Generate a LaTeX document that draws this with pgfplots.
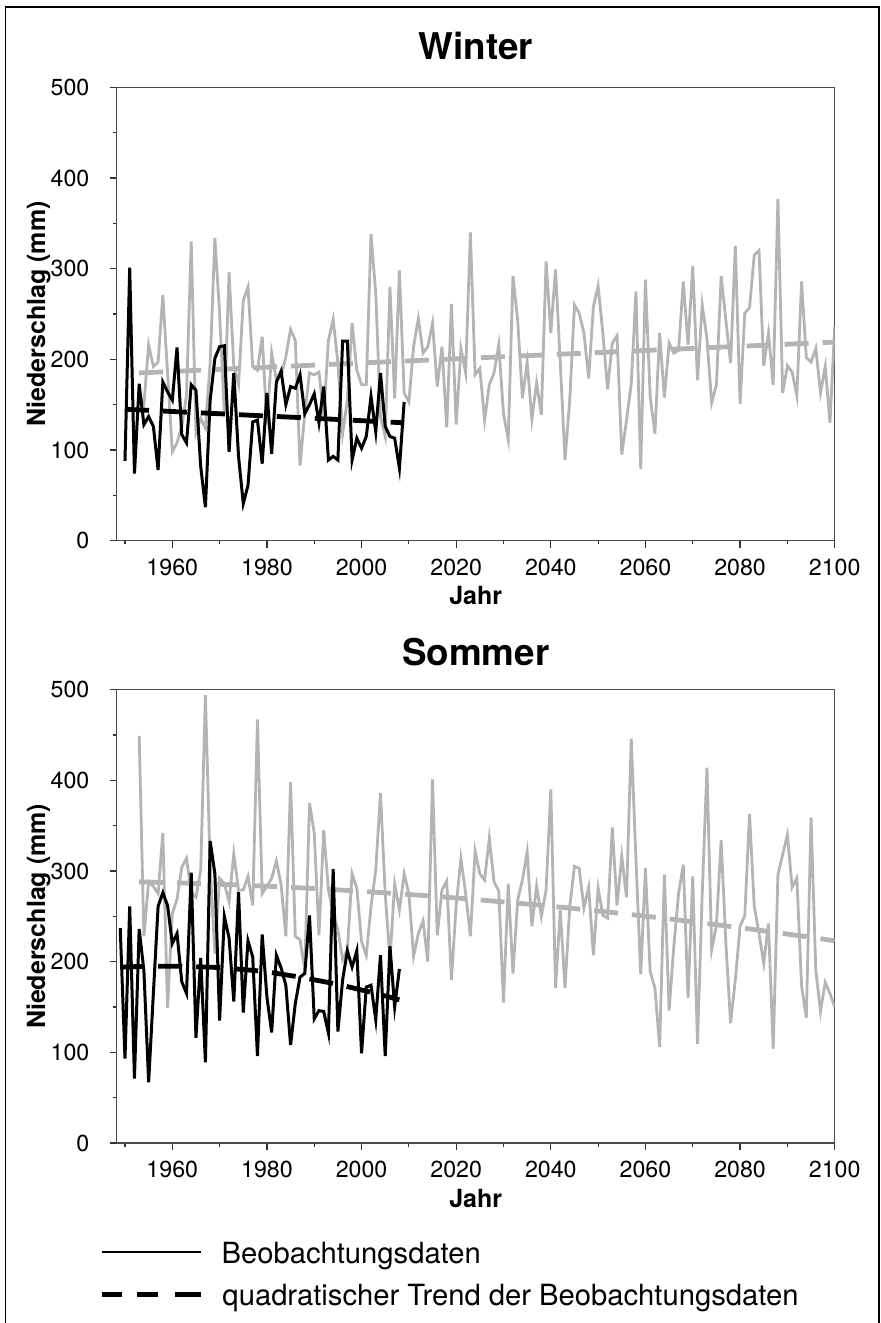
\documentclass[border=0pt]{standalone}
\usepackage{fontspec}
\setmainfont{TeX Gyre Heros}
\usepackage{pgfplots}
\usepackage{pgfplotstable}
\pgfplotsset{compat=1.18}

\definecolor{modelgray}{RGB}{180,180,180}

% Winter, Modell 1953-2100
\pgfplotstableread[row sep=\\]{
year val\\
1953 160\\ 1954 151\\ 1955 216\\ 1956 192\\ 1957 197\\ 1958 271\\ 1959 185\\ 1960 98\\
1961 108\\ 1962 126\\ 1963 160\\ 1964 330\\ 1965 119\\ 1966 135\\ 1967 124\\ 1968 196\\
1969 334\\ 1970 251\\ 1971 140\\ 1972 296\\ 1973 192\\ 1974 172\\ 1975 265\\ 1976 280\\
1977 192\\ 1978 188\\ 1979 225\\ 1980 128\\ 1981 207\\ 1982 177\\ 1983 181\\ 1984 203\\
1985 233\\ 1986 221\\ 1987 83\\ 1988 140\\ 1989 185\\ 1990 183\\ 1991 186\\ 1992 137\\
1993 221\\ 1994 244\\ 1995 196\\ 1996 118\\ 1997 155\\ 1998 240\\ 1999 188\\ 2000 172\\
2001 172\\ 2002 338\\ 2003 273\\ 2004 137\\ 2005 115\\ 2006 280\\ 2007 157\\ 2008 298\\
2009 163\\ 2010 153\\ 2011 214\\ 2012 245\\ 2013 207\\ 2014 214\\ 2015 240\\ 2016 170\\
2017 214\\ 2018 125\\ 2019 261\\ 2020 128\\ 2021 212\\ 2022 185\\ 2023 340\\ 2024 183\\
2025 190\\ 2026 133\\ 2027 172\\ 2028 185\\ 2029 216\\ 2030 140\\ 2031 112\\ 2032 292\\
2033 243\\ 2034 157\\ 2035 197\\ 2036 134\\ 2037 174\\ 2038 139\\ 2039 308\\ 2040 229\\
2041 299\\ 2042 196\\ 2043 89\\ 2044 155\\ 2045 260\\ 2046 251\\ 2047 229\\ 2048 179\\
2049 258\\ 2050 281\\ 2051 229\\ 2052 167\\ 2053 218\\ 2054 226\\ 2055 95\\ 2056 133\\
2057 173\\ 2058 275\\ 2059 79\\ 2060 288\\ 2061 159\\ 2062 118\\ 2063 229\\ 2064 158\\
2065 218\\ 2066 207\\ 2067 210\\ 2068 286\\ 2069 216\\ 2070 303\\ 2071 177\\ 2072 260\\
2073 223\\ 2074 152\\ 2075 172\\ 2076 292\\ 2077 243\\ 2078 196\\ 2079 325\\ 2080 151\\
2081 251\\ 2082 257\\ 2083 315\\ 2084 320\\ 2085 193\\ 2086 229\\ 2087 172\\ 2088 377\\
2089 163\\ 2090 193\\ 2091 186\\ 2092 160\\ 2093 286\\ 2094 202\\ 2095 197\\ 2096 212\\
2097 163\\ 2098 192\\ 2099 130\\ 2100 236\\
}\wintermodel

% Winter, Beobachtung 1950-2009
\pgfplotstableread[row sep=\\]{
year val\\
1950 88\\ 1951 301\\ 1952 74\\ 1953 173\\ 1954 128\\ 1955 137\\ 1956 126\\ 1957 78\\
1958 175\\ 1959 164\\ 1960 155\\ 1961 213\\ 1962 117\\ 1963 108\\ 1964 172\\ 1965 166\\
1966 82\\ 1967 37\\ 1968 155\\ 1969 201\\ 1970 214\\ 1971 215\\ 1972 98\\ 1973 185\\
1974 93\\ 1975 41\\ 1976 61\\ 1977 131\\ 1978 133\\ 1979 85\\ 1980 163\\ 1981 96\\
1982 175\\ 1983 187\\ 1984 150\\ 1985 170\\ 1986 168\\ 1987 183\\ 1988 140\\ 1989 150\\
1990 162\\ 1991 130\\ 1992 170\\ 1993 89\\ 1994 93\\ 1995 89\\ 1996 220\\ 1997 220\\
1998 89\\ 1999 113\\ 2000 102\\ 2001 115\\ 2002 159\\ 2003 120\\ 2004 185\\ 2005 126\\
2006 115\\ 2007 113\\ 2008 80\\ 2009 153\\
}\winterobs

% Sommer, Modell 1953-2100
\pgfplotstableread[row sep=\\]{
year val\\
1953 449\\ 1954 228\\ 1955 288\\ 1956 283\\ 1957 275\\ 1958 342\\ 1959 149\\ 1960 253\\
1961 269\\ 1962 304\\ 1963 314\\ 1964 275\\ 1965 271\\ 1966 301\\ 1967 494\\ 1968 305\\
1969 209\\ 1970 292\\ 1971 286\\ 1972 266\\ 1973 319\\ 1974 279\\ 1975 279\\ 1976 294\\
1977 262\\ 1978 467\\ 1979 275\\ 1980 283\\ 1981 292\\ 1982 311\\ 1983 285\\ 1984 228\\
1985 398\\ 1986 228\\ 1987 224\\ 1988 191\\ 1989 375\\ 1990 342\\ 1991 229\\ 1992 345\\
1993 279\\ 1994 253\\ 1995 235\\ 1996 202\\ 1997 213\\ 1998 297\\ 1999 281\\ 2000 222\\
2001 207\\ 2002 261\\ 2003 301\\ 2004 386\\ 2005 275\\ 2006 202\\ 2007 286\\ 2008 257\\
2009 297\\ 2010 275\\ 2011 206\\ 2012 231\\ 2013 245\\ 2014 200\\ 2015 401\\ 2016 229\\
2017 279\\ 2018 289\\ 2019 180\\ 2020 262\\ 2021 314\\ 2022 275\\ 2023 228\\ 2024 322\\
2025 297\\ 2026 290\\ 2027 336\\ 2028 288\\ 2029 278\\ 2030 155\\ 2031 286\\ 2032 187\\
2033 268\\ 2034 290\\ 2035 321\\ 2036 239\\ 2037 283\\ 2038 250\\ 2039 279\\ 2040 390\\
2041 171\\ 2042 257\\ 2043 171\\ 2044 261\\ 2045 305\\ 2046 303\\ 2047 259\\ 2048 282\\
2049 207\\ 2050 281\\ 2051 251\\ 2052 248\\ 2053 348\\ 2054 262\\ 2055 316\\ 2056 271\\
2057 446\\ 2058 312\\ 2059 186\\ 2060 303\\ 2061 189\\ 2062 171\\ 2063 106\\ 2064 296\\
2065 146\\ 2066 217\\ 2067 275\\ 2068 307\\ 2069 160\\ 2070 294\\ 2071 109\\ 2072 275\\
2073 414\\ 2074 213\\ 2075 240\\ 2076 334\\ 2077 220\\ 2078 132\\ 2079 180\\ 2080 239\\
2081 251\\ 2082 363\\ 2083 261\\ 2084 231\\ 2085 198\\ 2086 242\\ 2087 104\\ 2088 296\\
2089 318\\ 2090 340\\ 2091 282\\ 2092 292\\ 2093 173\\ 2094 138\\ 2095 359\\ 2096 191\\
2097 145\\ 2098 177\\ 2099 165\\ 2100 150\\
}\sommermodel

% Sommer, Beobachtung 1949-2008
\pgfplotstableread[row sep=\\]{
year val\\
1949 237\\ 1950 93\\ 1951 261\\ 1952 71\\ 1953 236\\ 1954 190\\ 1955 67\\ 1956 165\\
1957 261\\ 1958 276\\ 1959 262\\ 1960 220\\ 1961 231\\ 1962 178\\ 1963 165\\ 1964 298\\
1965 116\\ 1966 204\\ 1967 89\\ 1968 333\\ 1969 297\\ 1970 135\\ 1971 250\\ 1972 226\\
1973 156\\ 1974 277\\ 1975 144\\ 1976 223\\ 1977 205\\ 1978 96\\ 1979 230\\ 1980 161\\
1981 122\\ 1982 207\\ 1983 193\\ 1984 174\\ 1985 108\\ 1986 154\\ 1987 183\\ 1988 187\\
1989 251\\ 1990 137\\ 1991 146\\ 1992 145\\ 1993 121\\ 1994 302\\ 1995 123\\ 1996 180\\
1997 212\\ 1998 194\\ 1999 212\\ 2000 99\\ 2001 172\\ 2002 174\\ 2003 136\\ 2004 207\\
2005 96\\ 2006 217\\ 2007 150\\ 2008 192\\
}\sommerobs

\pgfplotsset{
  panel/.style={
    scale only axis, width=359pt, height=226.7pt,
    xmin=1948.25, xmax=2100, ymin=0, ymax=500,
    xtick={1960,1980,...,2100}, minor xtick={1950,1970,...,2090},
    ytick={0,100,...,500}, minor ytick={50,150,...,450},
    scaled x ticks=false,
    tick pos=left, tick align=outside,
    major tick length=3.5pt, minor tick length=1.8pt,
    axis line style={black!70, line width=0.6pt},
    tick style={black!80, line width=0.6pt},
    /pgf/number format/1000 sep={},
    /pgf/number format/assume math mode=true,
    tick label style={font=\fontsize{11.6}{13}\selectfont},
    xticklabel style={anchor=north, inner sep=0pt, yshift=-5.5pt},
    yticklabel style={anchor=east, inner sep=0pt, xshift=-10pt},
    xlabel={Jahr}, ylabel={Niederschlag (mm)},
    label style={font=\fontsize{12.5}{14}\selectfont\bfseries},
    xlabel style={at={(0.5,0)}, anchor=base, inner sep=0pt, yshift=-32pt},
    ylabel style={at={(-0.109,0.5)}, anchor=center, inner sep=0pt},
    title style={at={(0.5,1)}, anchor=base, inner sep=0pt,
      font=\fontsize{18.4}{20}\selectfont\bfseries},
  },
  modell/.style={modelgray, line width=1.4pt},
  modelltrend/.style={modelgray, line width=2.4pt, dash pattern=on 12pt off 7pt},
  beob/.style={black, line width=1.5pt},
  beobtrend/.style={black, line width=2.4pt, dash pattern=on 12pt off 7pt},
}

\begin{document}
\begin{tikzpicture}
\useasboundingbox (0pt,0pt) rectangle (440.5pt,-661.5pt);
\draw[line width=0.8pt] (2.75pt,-700pt) -- (2.75pt,-3.5pt) -- (439.5pt,-3.5pt) -- (439.5pt,-700pt);

\begin{axis}[panel, at={(58.35pt,-270.35pt)}, anchor=south west,
  title={Winter}, title style={yshift=8pt}]
\addplot[modell] table[x=year,y=val]{\wintermodel};
\addplot[modelltrend] coordinates {(1953,185) (2000,196) (2050,207.5) (2100,219)};
\addplot[beob] table[x=year,y=val]{\winterobs};
\addplot[beobtrend] coordinates {(1950,145) (1970,140) (1990,135) (2009,130)};
\end{axis}

\begin{axis}[panel, at={(58.35pt,-571.5pt)}, anchor=south west,
  title={Sommer}, title style={yshift=6pt}]
\addplot[modell] table[x=year,y=val]{\sommermodel};
\addplot[modelltrend] coordinates {(1953,288) (1963,286.6) (1973,284.8) (1983,282.5)
  (1993,279.8) (2003,276.6) (2013,273) (2023,269) (2033,264.5) (2043,259.6)
  (2053,254.2) (2063,248.4) (2073,242.1) (2083,235.4) (2093,228.3) (2100,223)};
\addplot[beob] table[x=year,y=val]{\sommerobs};
\addplot[beobtrend] coordinates {(1949,194) (1955,195) (1962,195) (1970,193.5)
  (1979,189.5) (1987,183) (1995,175) (2003,165) (2008,158)};
\end{axis}

% Legende
\draw[black, line width=1pt] (50.85pt,-625.85pt) -- (100.5pt,-625.85pt);
\node[anchor=base west, inner sep=0pt, font=\fontsize{14.6}{16}\selectfont]
  at (110.6pt,-631.65pt) {Beobachtungsdaten};
\draw[black, line width=2.2pt, dash pattern=on 10pt off 7.5pt on 10.8pt off 8.3pt on 13pt off 10pt]
  (50.85pt,-647.15pt) -- (100.5pt,-647.15pt);
\node[anchor=base west, inner sep=0pt, font=\fontsize{14.6}{16}\selectfont]
  at (111pt,-652.95pt) {quadratischer Trend der Beobachtungsdaten};
\end{tikzpicture}
\end{document}
